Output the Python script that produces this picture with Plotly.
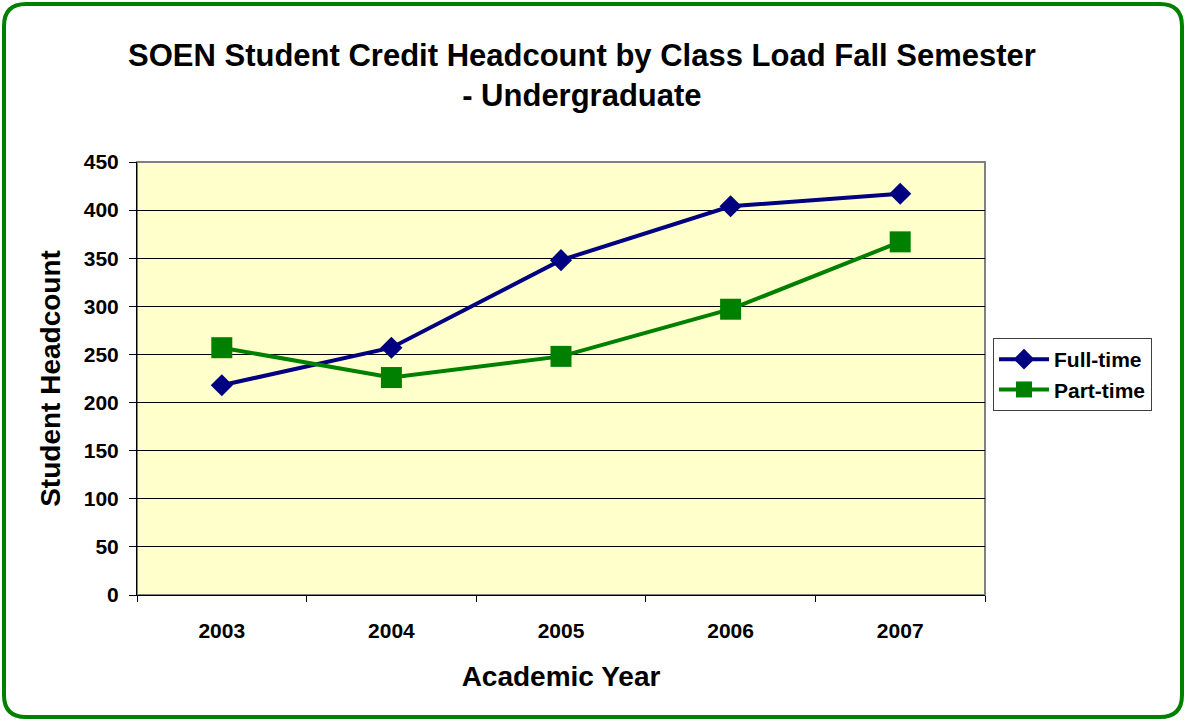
import plotly.graph_objects as go

years = ["2003", "2004", "2005", "2006", "2007"]
full_time = [218, 257, 348, 404, 417]
part_time = [257, 226, 248, 297, 367]
y_ticks = [0, 50, 100, 150, 200, 250, 300, 350, 400, 450]

W, H = 1186, 721
L, R, T, B = 137, 985, 162, 595

def px(x):
    return (x - L) / (R - L)

def py(y):
    return (B - y) / (B - T)

FONT = "Liberation Sans, Arial, sans-serif"

fig = go.Figure()
fig.add_trace(go.Scatter(
    x=years, y=full_time, name="<b>Full-time</b>", mode="lines+markers",
    line=dict(color="#000080", width=4),
    marker=dict(symbol="diamond", size=17, color="#000080"),
))
fig.add_trace(go.Scatter(
    x=years, y=part_time, name="<b>Part-time</b>", mode="lines+markers",
    line=dict(color="#008000", width=4),
    marker=dict(symbol="square", size=21, color="#008000"),
))

x0, y0, x1, y1, r = px(4), py(4), px(W - 4), py(H - 4), 22
def pathrr(xa, ya, xb, yb, rad):
    rx = rad / (R - L)
    ry = rad / (B - T)
    return (f"M {xa+rx},{ya} L {xb-rx},{ya} Q {xb},{ya} {xb},{ya-ry} "
            f"L {xb},{yb+ry} Q {xb},{yb} {xb-rx},{yb} L {xa+rx},{yb} "
            f"Q {xa},{yb} {xa},{yb+ry} L {xa},{ya-ry} Q {xa},{ya} {xa+rx},{ya} Z")

fig.add_shape(type="path", xref="paper", yref="paper",
              path=pathrr(x0, y0, x1, y1, r),
              line=dict(color="#008000", width=4), layer="above")
fig.add_shape(type="rect", xref="paper", yref="paper", x0=0, y0=0, x1=1, y1=1,
              line=dict(color="#808080", width=2), layer="below")

fig.add_annotation(
    text="<b>SOEN Student Credit Headcount by Class Load Fall Semester<br>- Undergraduate</b>",
    xref="paper", yref="paper", x=px(582), y=py(75), xanchor="center", yanchor="middle",
    showarrow=False, font=dict(family=FONT, size=31, color="black"))

fig.update_layout(
    width=W, height=H,
    margin=dict(l=L, r=W - R, t=T, b=H - B, pad=0),
    paper_bgcolor="white", plot_bgcolor="#FFFFCC",
    font=dict(family=FONT, color="black"),
    showlegend=True,
    legend=dict(x=px(993), y=py(338), xanchor="left", yanchor="top",
                bgcolor="white", bordercolor="#404040", borderwidth=1,
                font=dict(family=FONT, size=21, color="black"),
                itemwidth=50, tracegroupgap=4),
    xaxis=dict(
        type="category", range=[-0.5, 4.5], tickson="boundaries", ticks="outside", ticklen=6,
        tickcolor="black", showline=True, linecolor="black", linewidth=1,
        showgrid=False, ticklabelstandoff=17,
        tickfont=dict(family=FONT, size=21, color="black"),
        title=dict(text="<b>Academic Year</b>", font=dict(family=FONT, size=28), standoff=25),
    ),
    yaxis=dict(
        range=[0, 450], tickvals=y_ticks, ticktext=[f"<b>{v}</b>" for v in y_ticks],
        ticks="outside", ticklen=7, tickcolor="black",
        showline=True, linecolor="black", linewidth=1,
        showgrid=True, gridcolor="#000000", gridwidth=1, zeroline=False,
        ticklabelstandoff=6,
        tickfont=dict(family=FONT, size=21, color="black"),
        title=dict(text="<b>Student Headcount</b>", font=dict(family=FONT, size=28), standoff=14),
    ),
)
fig.update_xaxes(ticktext=[f"<b>{y}</b>" for y in years], tickvals=years)

fig.write_html("out.html", config={"displayModeBar": False},
               post_script="document.body.style.margin='0px';document.body.style.padding='0px';")
